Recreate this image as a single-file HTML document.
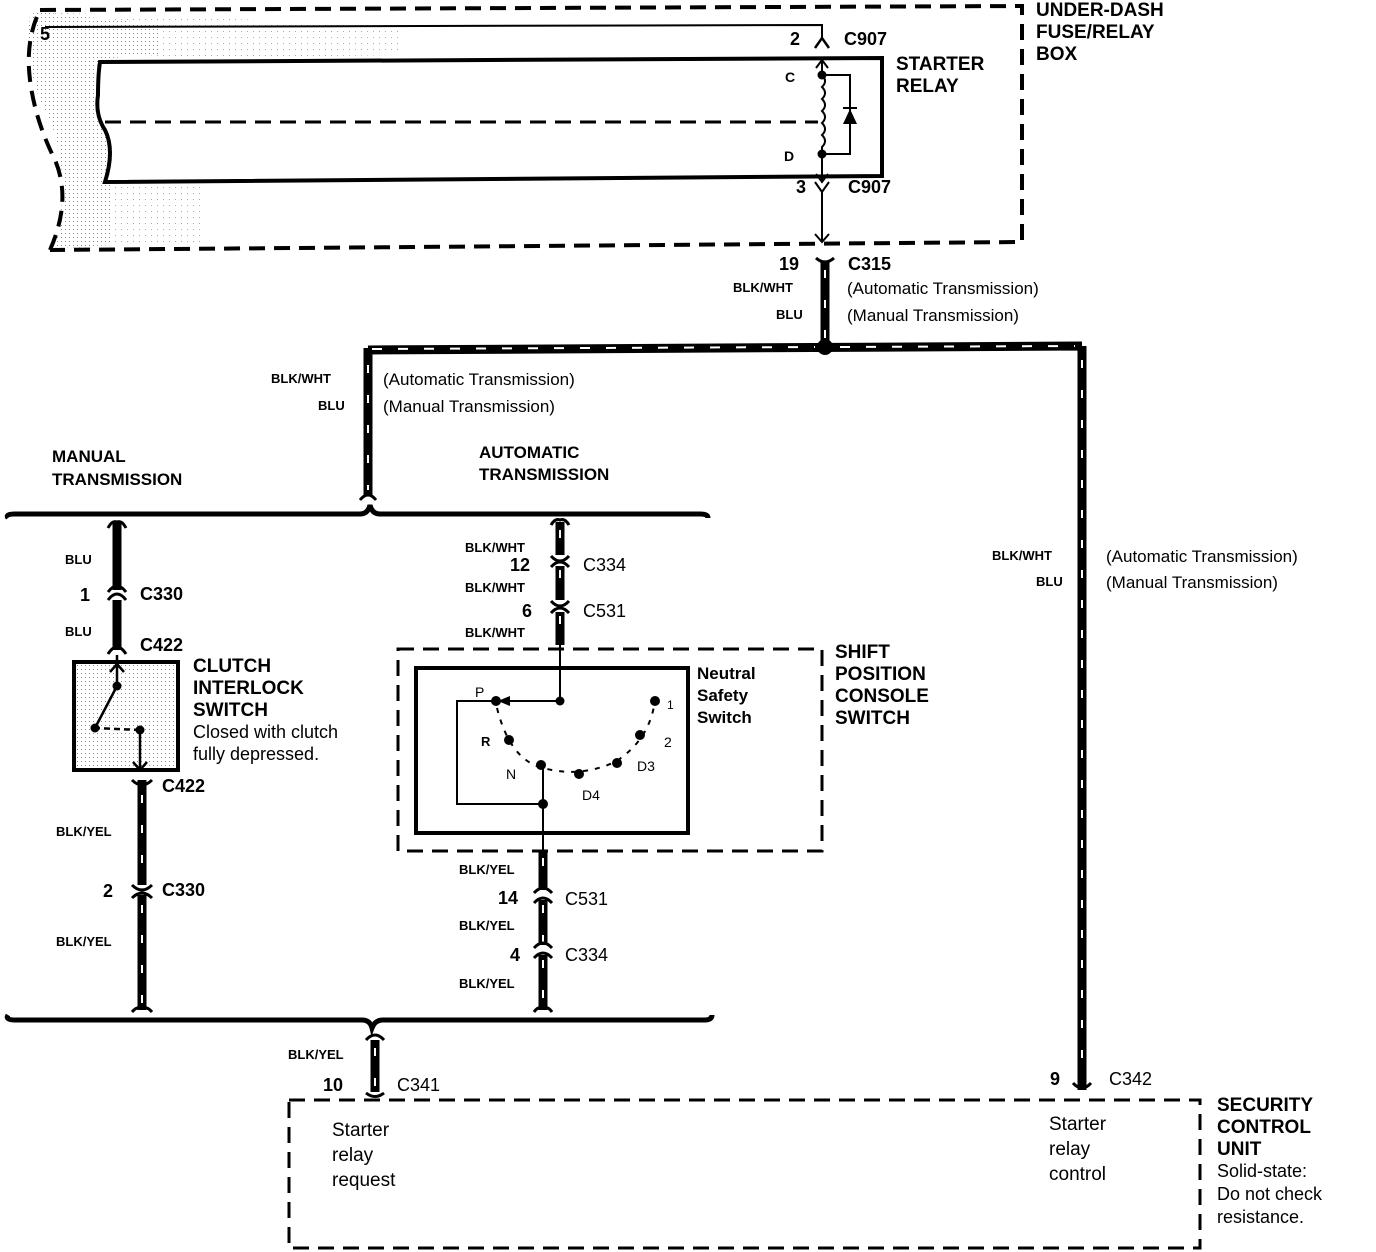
<!DOCTYPE html>
<html><head><meta charset="utf-8"><style>
body{margin:0;background:#fff}
svg{display:block}
text{font-family:"Liberation Sans",Arial,sans-serif;fill:#000}
.b{font-weight:bold}
</style></head><body>
<svg width="1376" height="1252" viewBox="0 0 1376 1252" xmlns="http://www.w3.org/2000/svg">
<defs>
<pattern id="dots" width="4" height="4" patternUnits="userSpaceOnUse"><rect width="4" height="4" fill="#fff"/><rect x="1" y="1" width="1" height="1" fill="#888"/></pattern>
<pattern id="dots2" width="6" height="6" patternUnits="userSpaceOnUse"><rect width="6" height="6" fill="#fff"/><rect x="1" y="1" width="1" height="1" fill="#aaa"/></pattern>
</defs>
<path d="M30,14 Q25,60 40,100 Q75,160 55,248 L200,245 L200,58 L400,55 L400,25 L40,12 Z" fill="url(#dots2)"/>
<path d="M30,14 Q25,60 40,100 Q75,160 55,248 L110,245 L110,58 L160,55 L160,25 L40,12 Z" fill="url(#dots)"/>
<g fill="none" stroke="#000" stroke-width="4" stroke-dasharray="16,9">
<path d="M40,10 L1022,6 L1022,242 L50,250"/>
<path d="M50,250 Q72,200 55,160 Q35,120 30,80 Q25,40 40,10"/>
</g>
<text x="40" y="40" class="b" font-size="18">5</text>
<path d="M45,27 L822,25 L822,40" fill="none" stroke="#000" stroke-width="2"/>
<path d="M815,48 L822,38 L829,48" fill="none" stroke="#000" stroke-width="2.5"/>
<text x="790" y="45" class="b" font-size="18">2</text>
<text x="844" y="45" class="b" font-size="18">C907</text>
<path d="M100,62 L882,58 L882,176 L105,182 Q115,150 105,130 Q95,115 98,95 Q98,75 100,62 Z" fill="#fff" stroke="#000" stroke-width="4"/>
<path d="M105,122 L818,122" stroke="#000" stroke-width="3" stroke-dasharray="16,9"/>
<path d="M822,58 L822,75 Q828,81 822,87 Q828,93 822,99 Q828,105 822,111 Q828,117 822,123 Q828,129 822,135 Q828,141 822,147 L822,182" fill="none" stroke="#000" stroke-width="2"/>
<path d="M816,68 L822,60 L828,68 M816,174 L822,182 L828,174" fill="none" stroke="#000" stroke-width="2"/>
<circle cx="822" cy="75" r="4.5"/><circle cx="822" cy="154" r="4.5"/>
<path d="M822,75 L850,75 L850,154 L822,154" fill="none" stroke="#000" stroke-width="2"/>
<path d="M843,124 L857,124 L850,109 Z"/>
<path d="M843,108 L857,108" stroke="#000" stroke-width="2"/>
<text x="785" y="82" class="b" font-size="14">C</text>
<text x="784" y="161" class="b" font-size="14">D</text>
<text x="896" y="70" class="b" font-size="19">STARTER</text>
<text x="896" y="92" class="b" font-size="19">RELAY</text>
<text x="1036" y="16" class="b" font-size="19">UNDER-DASH</text>
<text x="1036" y="38" class="b" font-size="19">FUSE/RELAY</text>
<text x="1036" y="60" class="b" font-size="19">BOX</text>
<path d="M815,182 L822,192 L829,182 M822,190 L822,242 M815,234 L822,242 L829,234" fill="none" stroke="#000" stroke-width="2"/>
<text x="796" y="193" class="b" font-size="18">3</text>
<text x="848" y="193" class="b" font-size="18">C907</text>
<g stroke="#000" fill="none">
<path d="M825,262 L825,347" stroke-width="9"/>
<path d="M816,258 Q825,266 834,258" stroke-width="3"/>
<path d="M368,350 L1082,346 M368,348 L368,495 M1082,346 L1082,1080" stroke-width="9"/>
<path d="M117,522 L117,590 M117,600 L117,650 M142,780 L142,885 M142,895 L142,1010" stroke-width="9"/>
<path d="M560,522 L560,555 M560,566 L560,600 M560,612 L560,645 M543,850 L543,890 M543,900 L543,945 M543,955 L543,1010" stroke-width="9"/>
<path d="M375,1040 L375,1092 M1082,1080 L1082,1090" stroke-width="9"/>
</g>
<g stroke="#fff" stroke-width="2" fill="none" stroke-dasharray="8,22">
<path d="M825,270 L825,340"/>
<path d="M372,349 L815,347 M840,347 L1075,346" stroke-dasharray="10,16"/>
<path d="M368,365 L368,490"/>
<path d="M1082,360 L1082,1070"/>
<path d="M142,795 L142,880 M142,905 L142,1005"/>
<path d="M560,530 L560,552 M560,570 L560,598 M560,616 L560,642 M543,858 L543,888 M543,905 L543,942 M543,960 L543,1005"/>
<path d="M375,1048 L375,1090"/>
</g>
<circle cx="825" cy="347" r="8"/>
<text x="779" y="270" class="b" font-size="18">19</text>
<text x="848" y="270" class="b" font-size="18">C315</text>
<text x="733" y="292" class="b" font-size="13">BLK/WHT</text>
<text x="776" y="319" class="b" font-size="13">BLU</text>
<text x="847" y="294" font-size="17">(Automatic Transmission)</text>
<text x="847" y="321" font-size="17">(Manual Transmission)</text>
<text x="271" y="383" class="b" font-size="13">BLK/WHT</text>
<text x="318" y="410" class="b" font-size="13">BLU</text>
<text x="383" y="385" font-size="17">(Automatic Transmission)</text>
<text x="383" y="412" font-size="17">(Manual Transmission)</text>
<text x="992" y="560" class="b" font-size="13">BLK/WHT</text>
<text x="1036" y="586" class="b" font-size="13">BLU</text>
<text x="1106" y="562" font-size="17">(Automatic Transmission)</text>
<text x="1106" y="588" font-size="17">(Manual Transmission)</text>
<text x="52" y="462" class="b" font-size="17">MANUAL</text>
<text x="52" y="485" class="b" font-size="17">TRANSMISSION</text>
<text x="479" y="458" class="b" font-size="17">AUTOMATIC</text>
<text x="479" y="480" class="b" font-size="17">TRANSMISSION</text>
<g fill="none" stroke="#000">
<path d="M8,518 Q5,514 15,514 L360,514 Q368,514 370,505 Q372,514 380,514 L700,514 Q708,514 708,518" stroke-width="5"/>
<path d="M8,1015 Q5,1020 15,1020 L362,1020 Q370,1020 372,1028 Q375,1020 383,1020 L705,1020 Q712,1020 712,1015" stroke-width="5"/>
<path d="M360,500 Q368,490 376,500" stroke-width="3"/>
<path d="M108,528 Q112,520 117,522 Q122,520 126,528 M108,600 Q117,588 126,600 M108,592 Q117,580 126,592 M108,654 Q117,640 126,654" stroke-width="3"/>
<path d="M132,780 Q142,790 152,780 M132,885 Q142,895 152,885 M132,898 Q142,888 152,898 M132,1012 Q137,1006 142,1008 Q147,1006 152,1012" stroke-width="3"/>
<path d="M551,525 Q555,518 560,520 Q565,518 569,525 M551,556 Q560,566 569,556 M551,567 Q560,557 569,567 M551,601 Q560,611 569,601 M551,613 Q560,603 569,613" stroke-width="3"/>
<path d="M534,893 Q543,883 552,893 M534,903 Q543,893 552,903 M534,948 Q543,938 552,948 M534,958 Q543,948 552,958 M534,1012 Q538,1006 543,1008 Q548,1006 552,1012" stroke-width="3"/>
<path d="M366,1040 Q375,1030 384,1040 M366,1093 Q375,1100 384,1093 M1073,1083 Q1082,1093 1091,1083" stroke-width="3"/>
</g>
<text x="65" y="564" class="b" font-size="13">BLU</text>
<text x="80" y="601" class="b" font-size="18">1</text>
<text x="140" y="600" class="b" font-size="18">C330</text>
<text x="65" y="636" class="b" font-size="13">BLU</text>
<text x="140" y="651" class="b" font-size="18">C422</text>
<rect x="74" y="662" width="104" height="108" fill="url(#dots)" stroke="#000" stroke-width="4"/>
<path d="M117,655 L117,686 M110,672 L117,664 L124,672 M117,686 L95,728 M95,728 L140,730 M140,730 L140,770 M133,762 L140,770 L147,762" fill="none" stroke="#000" stroke-width="2.5"/>
<path d="M100,728 L136,730" stroke="#fff" stroke-width="3" stroke-dasharray="4,6"/>
<circle cx="117" cy="686" r="4.5"/><circle cx="95" cy="728" r="4.5"/><circle cx="140" cy="730" r="4.5"/>
<text x="193" y="672" class="b" font-size="19">CLUTCH</text>
<text x="193" y="694" class="b" font-size="19">INTERLOCK</text>
<text x="193" y="716" class="b" font-size="19">SWITCH</text>
<text x="193" y="738" font-size="18">Closed with clutch</text>
<text x="193" y="760" font-size="18">fully depressed.</text>
<text x="162" y="792" class="b" font-size="18">C422</text>
<text x="56" y="836" class="b" font-size="13">BLK/YEL</text>
<text x="103" y="897" class="b" font-size="18">2</text>
<text x="162" y="896" class="b" font-size="18">C330</text>
<text x="56" y="946" class="b" font-size="13">BLK/YEL</text>
<text x="465" y="552" class="b" font-size="13">BLK/WHT</text>
<text x="510" y="571" class="b" font-size="18">12</text>
<text x="583" y="571" font-size="18">C334</text>
<text x="465" y="592" class="b" font-size="13">BLK/WHT</text>
<text x="522" y="617" class="b" font-size="18">6</text>
<text x="583" y="617" font-size="18">C531</text>
<text x="465" y="637" class="b" font-size="13">BLK/WHT</text>
<rect x="398" y="649" width="424" height="202" fill="none" stroke="#000" stroke-width="3" stroke-dasharray="16,9"/>
<rect x="416" y="668" width="272" height="165" fill="none" stroke="#000" stroke-width="4"/>
<g fill="none" stroke="#000" stroke-width="2">
<path d="M560,645 L560,701 L500,701"/>
<path d="M493,701 L457,701 L457,804 L543,804 M543,764 L543,850"/>
<path d="M497,708 Q510,760 543,768 Q580,778 615,762 Q650,740 655,700" stroke-dasharray="5,7"/>
</g>
<path d="M510,696 L498,701 L510,706 Z"/>
<circle cx="560" cy="701" r="4.5"/><circle cx="496" cy="701" r="5"/><circle cx="509" cy="740" r="5"/>
<circle cx="541" cy="765" r="5"/><circle cx="579" cy="774" r="5"/><circle cx="617" cy="763" r="5"/>
<circle cx="640" cy="735" r="5"/><circle cx="655" cy="701" r="5"/><circle cx="543" cy="804" r="5"/>
<text x="475" y="697" font-size="14">P</text>
<text x="481" y="746" class="b" font-size="13">R</text>
<text x="506" y="779" font-size="14">N</text>
<text x="582" y="800" font-size="14">D4</text>
<text x="637" y="771" font-size="14">D3</text>
<text x="664" y="747" font-size="14">2</text>
<text x="667" y="709" font-size="12">1</text>
<text x="697" y="679" class="b" font-size="17">Neutral</text>
<text x="697" y="701" class="b" font-size="17">Safety</text>
<text x="697" y="723" class="b" font-size="17">Switch</text>
<text x="835" y="658" class="b" font-size="19">SHIFT</text>
<text x="835" y="680" class="b" font-size="19">POSITION</text>
<text x="835" y="702" class="b" font-size="19">CONSOLE</text>
<text x="835" y="724" class="b" font-size="19">SWITCH</text>
<text x="459" y="874" class="b" font-size="13">BLK/YEL</text>
<text x="498" y="904" class="b" font-size="18">14</text>
<text x="565" y="905" font-size="18">C531</text>
<text x="459" y="930" class="b" font-size="13">BLK/YEL</text>
<text x="510" y="961" class="b" font-size="18">4</text>
<text x="565" y="961" font-size="18">C334</text>
<text x="459" y="988" class="b" font-size="13">BLK/YEL</text>
<text x="288" y="1059" class="b" font-size="13">BLK/YEL</text>
<text x="323" y="1091" class="b" font-size="18">10</text>
<text x="397" y="1091" font-size="18">C341</text>
<text x="1050" y="1085" class="b" font-size="18">9</text>
<text x="1109" y="1085" font-size="18">C342</text>
<rect x="289" y="1100" width="911" height="148" fill="none" stroke="#000" stroke-width="3" stroke-dasharray="16,9"/>
<text x="332" y="1136" font-size="19">Starter</text>
<text x="332" y="1161" font-size="19">relay</text>
<text x="332" y="1186" font-size="19">request</text>
<text x="1049" y="1130" font-size="19">Starter</text>
<text x="1049" y="1155" font-size="19">relay</text>
<text x="1049" y="1180" font-size="19">control</text>
<text x="1217" y="1111" class="b" font-size="19">SECURITY</text>
<text x="1217" y="1133" class="b" font-size="19">CONTROL</text>
<text x="1217" y="1155" class="b" font-size="19">UNIT</text>
<text x="1217" y="1177" font-size="18">Solid-state:</text>
<text x="1217" y="1200" font-size="18">Do not check</text>
<text x="1217" y="1223" font-size="18">resistance.</text>
</svg>
</body></html>
